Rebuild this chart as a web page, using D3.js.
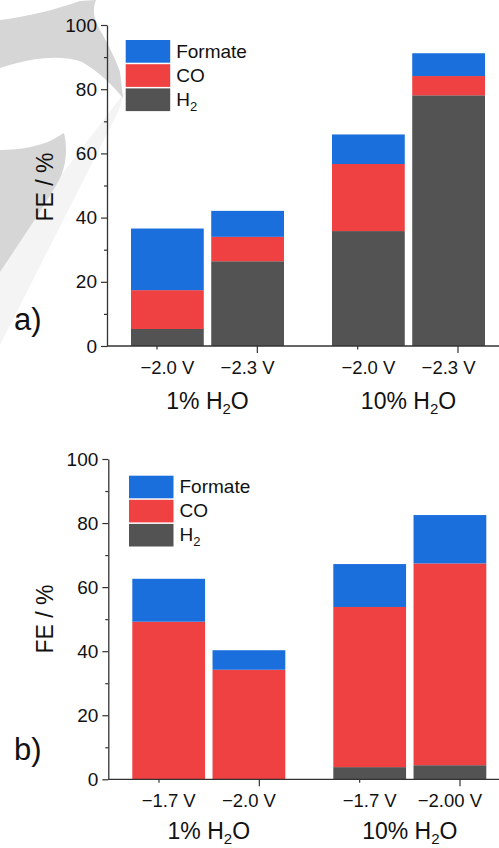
<!DOCTYPE html>
<html>
<head>
<meta charset="utf-8">
<script src="https://cdn.jsdelivr.net/npm/d3@7"></script>
<style>
  html, body { margin: 0; padding: 0; background: #fff; }
  svg { display: block; font-family: Arial, "Liberation Sans", Helvetica, sans-serif; }
</style>
</head>
<body>
<svg id="chart" width="499" height="848"></svg>
<script>
// ---------------- data ----------------
const groups = ["1% H2O", "10% H2O"];
const seriesKeys = ["H2", "CO", "Formate"];

// panel a)
const labelsA = ["\u22122.0 V", "\u22122.3 V", "\u22122.0 V", "\u22122.3 V"];
const groupOfA = [0, 0, 1, 1];
const h2A = [5.3, 26.4, 35.8, 78.1];
const coA = [12.1, 7.6, 20.9, 6.0];
const formateA = [19.2, 8.1, 9.2, 7.1];

// panel b)
const labelsB = ["\u22121.7 V", "\u22122.0 V", "\u22121.7 V", "\u22122.00 V"];
const groupOfB = [0, 0, 1, 1];
const h2B = [0, 0, 3.8, 4.4];
const coB = [49.2, 34.2, 50.0, 63.0];
const formateB = [13.4, 6.1, 13.4, 15.1];

const yMajorTicks = [0, 20, 40, 60, 80, 100];
const yMinorTicks = [10, 30, 50, 70, 90];
const xTickMarks = [1, 2, 3, 4];

const colors = { H2: "#535353", CO: "#f04142", Formate: "#1b6fdd" };
const legendOrder = ["Formate", "CO", "H2"];

// ---------------- drawing ----------------
const svg = d3.select("#chart");

// watermark (decorative background)
const wm = svg.append("g");
wm.append("path")
  .attr("d", "M0,255 L125,92 L118,112 L0,345 Z")
  .attr("fill", "#f4f4f4");
wm.append("path")
  .attr("d", "M0,20 C25,17 55,10 80,1 L96,0 C92,10 94,20 100,30 C108,44 116,60 120,72 L123,98 C110,82 96,70 82,62 C60,54 30,58 0,68 Z")
  .attr("fill", "#d6d6d6");
wm.append("path")
  .attr("d", "M0,150 C20,150 40,146 52,140 L64,133 C68,150 66,168 58,182 C42,210 20,242 0,272 Z")
  .attr("fill", "#d6d6d6");

function drawPanel(opt) {
  const g = svg.append("g").attr("transform", `translate(${opt.dx},0)`);
  const axisX = 107;
  const y = d3.scaleLinear().domain([0, 100]).range([opt.y0, opt.y100]);

  const gx = d3.scaleBand().domain(groups).range([131, 485]).paddingInner(0.2388).paddingOuter(0);
  const inner = d3.scaleBand().domain([0, 1]).range([0, gx.bandwidth()]).paddingInner(0.093).paddingOuter(0);
  const barX = i => gx(groups[opt.groupOf[i]]) + inner(i % 2);

  const rows = opt.labels.map((l, i) => ({ i, H2: opt.h2[i], CO: opt.co[i], Formate: opt.formate[i] }));
  const stacked = d3.stack().keys(seriesKeys)(rows);

  // bars
  stacked.forEach(layer => {
    g.append("g").selectAll("rect").data(layer).join("rect")
      .attr("x", d => barX(d.data.i))
      .attr("width", inner.bandwidth())
      .attr("y", d => y(d[1]))
      .attr("height", d => Math.max(0, y(d[0]) - y(d[1])))
      .attr("fill", colors[layer.key]);
  });

  // y axis
  const yAxis = d3.axisLeft(y).tickValues(yMajorTicks).tickSize(6).tickPadding(4).tickSizeOuter(0);
  const ya = g.append("g").attr("transform", `translate(${axisX},0)`).call(yAxis);
  ya.select(".domain").attr("stroke", "#333").attr("stroke-width", 1.3);
  ya.selectAll(".tick line").attr("stroke", "#333").attr("stroke-width", 1.2);
  ya.selectAll(".tick text").attr("font-size", 19).attr("fill", "#111").attr("font-family", "Arial, 'Liberation Sans', sans-serif");
  const yMinor = d3.axisLeft(y).tickValues(yMinorTicks).tickSize(3).tickFormat("");
  const ym = g.append("g").attr("transform", `translate(${axisX},0)`).call(yMinor);
  ym.select(".domain").remove();
  ym.selectAll(".tick line").attr("stroke", "#333").attr("stroke-width", 1.2);

  // x axis line
  g.append("line").attr("x1", axisX).attr("x2", 499 - opt.dx)
    .attr("y1", opt.y0).attr("y2", opt.y0).attr("stroke", "#333").attr("stroke-width", 1.3);
  const xt = d3.scaleLinear().domain([1, 4]).range([157, 458]);
  g.append("g").selectAll("line").data(xTickMarks).join("line")
    .attr("x1", d => xt(d) + opt.tickShift).attr("x2", d => xt(d) + opt.tickShift)
    .attr("y1", opt.y0).attr("y2", d => opt.y0 + (d % 2 === 0 ? 7 : 3.5))
    .attr("stroke", "#333").attr("stroke-width", 1.2);

  // x tick labels (bar centers)
  g.append("g").selectAll("text").data(opt.labels).join("text")
    .attr("x", (d, i) => barX(i) + inner.bandwidth() / 2)
    .attr("y", opt.y0 + 28)
    .attr("text-anchor", "middle")
    .attr("font-size", 18.5).attr("fill", "#111")
    .text(d => d);

  // group labels
  groups.forEach(gr => {
    const m = gr.match(/^(.*H)2(O)$/);
    const t = g.append("text")
      .attr("x", gx(gr) + gx.bandwidth() / 2)
      .attr("y", opt.y0 + opt.groupDy)
      .attr("text-anchor", "middle")
      .attr("font-size", 23).attr("fill", "#111");
    t.append("tspan").text(m[1]);
    t.append("tspan").text("2").attr("font-size", 15).attr("dy", 5);
    t.append("tspan").text(m[2]).attr("dy", -5);
  });

  // y axis title
  g.append("text")
    .attr("transform", `translate(${opt.titleX},${opt.titleY}) rotate(-90)`)
    .attr("text-anchor", "middle")
    .attr("font-size", 23).attr("fill", "#111")
    .text("FE / %");

  // panel letter
  svg.append("text").attr("x", 14).attr("y", opt.letterY)
    .attr("font-size", 31).attr("fill", "#111").text(opt.letter);

  // legend
  const lg = svg.append("g");
  legendOrder.forEach((k, j) => {
    const yy = opt.legY + j * opt.legStep;
    lg.append("rect").attr("x", opt.legX).attr("y", yy)
      .attr("width", 44.5).attr("height", opt.legStep - 1.5)
      .attr("fill", colors[k]);
    const t = lg.append("text").attr("x", opt.legX + 50.5).attr("y", yy + 17.5)
      .attr("font-size", 19).attr("fill", "#111");
    if (k === "H2") {
      t.append("tspan").text("H");
      t.append("tspan").text("2").attr("font-size", 13).attr("dy", 5);
    } else {
      t.text(k);
    }
  });
}

drawPanel({
  dx: 0, y0: 346, y100: 25,
  labels: labelsA, groupOf: groupOfA, h2: h2A, co: coA, formate: formateA,
  tickShift: 0, titleX: 53, titleY: 187, letter: "a)", letterY: 330,
  legX: 125.7, legY: 40, legStep: 24.2, groupDy: 63
});
drawPanel({
  dx: 1.3, y0: 779.3, y100: 459,
  labels: labelsB, groupOf: groupOfB, h2: h2B, co: coB, formate: formateB,
  tickShift: 0.7, titleX: 52, titleY: 619, letter: "b)", letterY: 760,
  legX: 129, legY: 475.7, legStep: 24.1, groupDy: 60
});
</script>
</body>
</html>
